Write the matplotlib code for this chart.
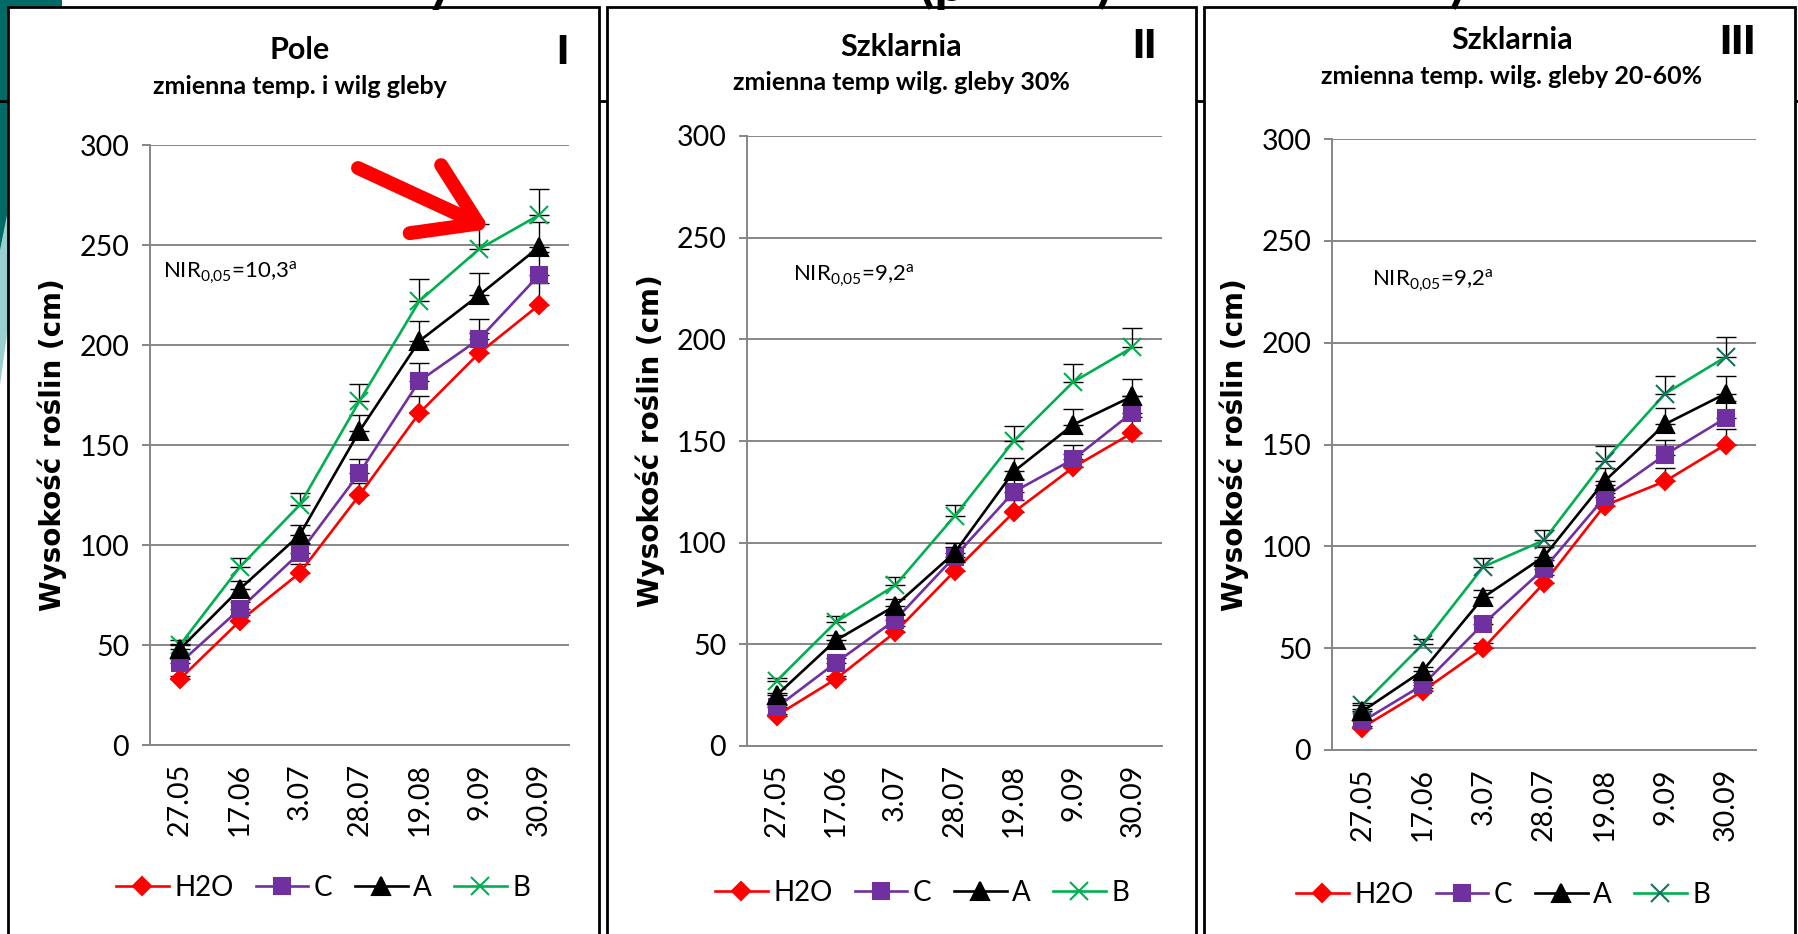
import matplotlib
matplotlib.use('Agg')
import matplotlib.pyplot as plt
from matplotlib.patches import Rectangle, Polygon, FancyArrowPatch, ArrowStyle
from matplotlib.lines import Line2D

plt.rcParams['font.family'] = ['Lato', 'DejaVu Sans']

# categories (measurement dates)
dates = ['27.05', '17.06', '3.07', '28.07', '19.08', '9.09', '30.09']
series_names = ['H2O', 'C', 'A', 'B']

# panel I - Pole
pole_h2o = [33, 62, 86, 125, 166, 196, 220]
pole_c = [41, 68, 96, 136, 182, 203, 235]
pole_a = [48, 78, 105, 157, 202, 225, 249]
pole_b = [50, 89, 120, 172, 222, 248, 265]

# panel II - Szklarnia, 30%
szk30_h2o = [15, 33, 56, 86, 115, 137, 154]
szk30_c = [19, 41, 62, 93, 125, 141, 164]
szk30_a = [25, 52, 69, 95, 135, 158, 172]
szk30_b = [32, 61, 79, 113, 150, 179, 196]

# panel III - Szklarnia, 20-60%
szk2060_h2o = [11, 29, 50, 82, 120, 132, 150]
szk2060_c = [14, 32, 62, 89, 124, 145, 163]
szk2060_a = [19, 39, 75, 95, 132, 160, 175]
szk2060_b = [22, 52, 90, 103, 142, 175, 193]

titles = ['Pole', 'Szklarnia', 'Szklarnia']
subtitles = ['zmienna temp. i wilg gleby', 'zmienna temp wilg. gleby 30%',
             'zmienna temp. wilg. gleby 20-60%']
numerals = ['I', 'II', 'III']
nir_values = ['10,3', '9,2', '9,2']
err_pct = 0.05  # excel percentage error bars, plus direction

W, H = 1799, 934


def fx(px):
    return px / W


def fy(py):
    return 1 - py / H


fig = plt.figure(figsize=(W / 100, H / 100), dpi=100)

# slide background bits
fig.add_artist(Rectangle((0, fy(300)), fx(9), fy(0) - fy(300), transform=fig.transFigure,
                         facecolor='#006B66', edgecolor='none', zorder=-5))
fig.add_artist(Rectangle((0, fy(8)), fx(62), fy(0) - fy(8), transform=fig.transFigure,
                         facecolor='#006B66', edgecolor='none', zorder=-5))
fig.add_artist(Polygon([(0, fy(250)), (fx(9), fy(205)), (fx(9), fy(320)), (0, fy(385))],
                       closed=True, transform=fig.transFigure,
                       facecolor='#9ACFCF', edgecolor='none', zorder=-4))
fig.add_artist(Line2D([0, 1], [fy(101), fy(101)], transform=fig.transFigure,
                      color='black', lw=2, zorder=-4))

# panel frames
frames = [(8, 599), (607, 1196), (1204, 1795)]
for x0, x1 in frames:
    fig.add_artist(Rectangle((fx(x0), -0.02), fx(x1) - fx(x0), fy(7) + 0.02,
                             transform=fig.transFigure, facecolor='white',
                             edgecolor='black', lw=2, zorder=-2))

# cut-off slide title descenders
for txt, px in [('y', 440), ('(p', 942), (')', 1104), (')', 1457)]:
    fig.text(fx(px), fy(1), txt, fontsize=40, fontweight='bold', ha='center',
             va='baseline', color='black', zorder=5)

panels = [
    dict(data=[pole_h2o, pole_c, pole_a, pole_b], rect=(150, 569, 145, 745),
         title=(300, 50), sub=(300, 87), num=(562, 52), nir=(163, 278),
         ylab=52, leg=(323, 888), bcol='#00B050'),
    dict(data=[szk30_h2o, szk30_c, szk30_a, szk30_b], rect=(747, 1162, 136, 746),
         title=(901, 47), sub=(901, 82), num=(1144, 47), nir=(793, 281),
         ylab=650, leg=(922, 893), bcol='#00B050'),
    dict(data=[szk2060_h2o, szk2060_c, szk2060_a, szk2060_b], rect=(1332, 1756, 139, 750),
         title=(1512, 40), sub=(1512, 77), num=(1737, 43), nir=(1372, 286),
         ylab=1234, leg=(1503, 895), bcol='#17705F'),
]

grid_col = '#868686'

for i, p in enumerate(panels):
    l, r, t, b = p['rect']
    ax = fig.add_axes([fx(l), fy(b), fx(r) - fx(l), fy(t) - fy(b)])
    x = list(range(len(dates)))
    h2o, c, a, bb = p['data']

    styles = {
        'H2O': dict(color='#FF0000', marker='D', ms=9.5, mfc='#FF0000', mec='#FF0000', z=3),
        'C': dict(color='#7030A0', marker='s', ms=12, mfc='#7030A0', mec='#7030A0', z=4),
        'A': dict(color='black', marker='^', ms=13, mfc='black', mec='black', z=6),
        'B': dict(color='#00B050', marker='x', ms=13, mfc='none', mec=p['bcol'], z=5),
    }
    handles = {}
    for name, vals in zip(series_names, [h2o, c, a, bb]):
        st = styles[name]
        ax.errorbar(x, vals, yerr=[[0] * len(vals), [v * err_pct for v in vals]],
                    fmt='none', ecolor='black', elinewidth=1, capsize=7, capthick=1,
                    zorder=2)
        ln, = ax.plot(x, vals, color=st['color'], lw=1.9, marker=st['marker'],
                      ms=st['ms'], mfc=st['mfc'], mec=st['mec'], mew=1.5,
                      zorder=st['z'], clip_on=False)
        handles[name] = ln

    ax.set_xlim(-0.5, len(dates) - 0.5)
    ax.set_ylim(0, 300)
    ax.set_yticks(range(0, 301, 50))
    ax.set_xticks(x)
    ax.set_xticklabels(dates, rotation=90)
    ax.grid(axis='y', color=grid_col, lw=1.4)
    ax.set_axisbelow(True)
    for s in ['top', 'right']:
        ax.spines[s].set_visible(False)
    for s in ['left', 'bottom']:
        ax.spines[s].set_color(grid_col)
        ax.spines[s].set_linewidth(1.4)
    ax.tick_params(axis='y', length=6, width=1.4, color=grid_col, pad=9, labelsize=20.5)
    ax.tick_params(axis='x', length=0, pad=13, labelsize=20.5)

    ax.legend([handles[n] for n in series_names], series_names, loc='center',
              bbox_to_anchor=(fx(p['leg'][0]), fy(p['leg'][1])),
              bbox_transform=fig.transFigure, ncol=4, frameon=False, fontsize=20,
              handlelength=1.9, handletextpad=0.2, columnspacing=0.8, borderpad=0)

    fig.text(fx(p['title'][0]), fy(p['title'][1]), titles[i], fontsize=22,
             fontweight='bold', ha='center', va='center')
    fig.text(fx(p['sub'][0]), fy(p['sub'][1]), subtitles[i], fontsize=18,
             fontweight='bold', ha='center', va='center')
    fig.text(fx(p['num'][0]), fy(p['num'][1]), numerals[i], fontsize=28,
             fontweight='heavy', ha='center', va='center')
    fig.text(fx(p['nir'][0]), fy(p['nir'][1]),
             r'NIR$_\mathregular{0{,}05}$=' + nir_values[i] + r'$^\mathregular{a}$',
             fontsize=16, ha='left', va='baseline')
    fig.text(fx(p['ylab']), (fy(t) + fy(b)) / 2, 'Wysokość roślin (cm)', fontsize=20,
             fontweight='bold', family='DejaVu Sans', rotation=90, ha='center',
             va='center')

# red arrow pointing at the B series in panel I
arrow = FancyArrowPatch((fx(358), fy(168)), (fx(490), fy(229)), transform=fig.transFigure,
                        arrowstyle=ArrowStyle('->', head_length=0.7, head_width=0.45),
                        mutation_scale=60, color='#FF0000', lw=10, shrinkA=0, shrinkB=0,
                        zorder=10)
fig.add_artist(arrow)

fig.savefig('out.png', dpi=100)
